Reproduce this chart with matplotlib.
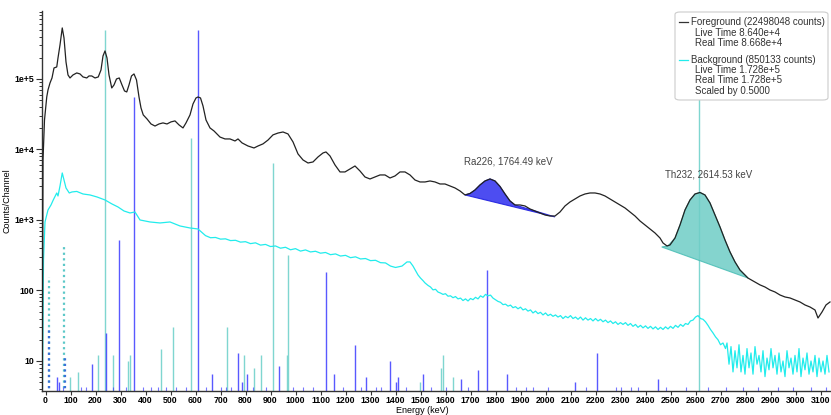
import numpy as np
import matplotlib
matplotlib.use('Agg')
import matplotlib.pyplot as plt
from matplotlib.patches import FancyBboxPatch
from matplotlib.lines import Line2D
from matplotlib.ticker import FixedLocator, FixedFormatter, LogLocator, NullFormatter

plt.rcParams['font.family'] = ['Liberation Sans', 'DejaVu Sans']

# ---------------- data ----------------
fg_energy = [-13, -10, -4, 5, 10, 18, 26, 34, 45, 50, 58, 67, 74, 82, 90, 98, 110, 125, 138, 150,
             165, 174, 185, 198, 211, 222, 230, 238, 246, 254, 265, 274, 284, 295, 306, 316, 325,
             334, 344, 354, 364, 374, 382, 391, 406, 422, 438, 454, 470, 486, 502, 518, 534, 550,
             562, 578, 590, 602, 610, 620, 630, 642, 658, 674, 698, 718, 738, 758, 770, 786, 810,
             834, 850, 870, 890, 910, 930, 950, 970, 990, 1010, 1030, 1050, 1070, 1090, 1110, 1122,
             1138, 1158, 1178, 1198, 1218, 1238, 1258, 1278, 1298, 1318, 1338, 1358, 1378, 1398,
             1418, 1438, 1458, 1478, 1498, 1518, 1538, 1558, 1578, 1598, 1618, 1638, 1658, 1678,
             1698, 1718, 1738, 1758, 1778, 1798, 1818, 1838, 1858, 1878, 1898, 1918, 1938, 1958,
             1978, 1998, 2018, 2038, 2058, 2078, 2098, 2118, 2138, 2158, 2178, 2198, 2218, 2238,
             2258, 2278, 2298, 2318, 2338, 2358, 2378, 2398, 2418, 2438, 2458, 2470, 2486, 2498,
             2518, 2538, 2558, 2578, 2598, 2618, 2638, 2658, 2678, 2698, 2718, 2738, 2758, 2778,
             2810, 2838, 2858, 2878, 2898, 2918, 2938, 2958, 2978, 2998, 3018, 3038, 3058, 3078,
             3090, 3106, 3122, 3138]
fg_counts = [4, 7100, 26200, 55500, 69800, 87700, 103300, 143200, 148000, 198600, 303600, 529000,
             381500, 174200, 114000, 103300, 114000, 121700, 117800, 106800, 103300, 110300,
             110300, 103300, 106800, 134200, 212000, 249600, 198600, 114000, 74500, 82200, 100000,
             103300, 82200, 67600, 65400, 82200, 110300, 117800, 96800, 55500, 38800, 30900,
             27100, 23000, 21500, 23000, 23800, 23000, 24600, 25400, 22300, 20200, 23800, 30900,
             44200, 53800, 55500, 53800, 41400, 26200, 20200, 18300, 15000, 14100, 14100, 13200,
             14100, 12400, 11200, 10500, 11200, 12000, 13600, 16100, 17100, 17700, 16600, 12800,
             8640, 7100, 6430, 6650, 7830, 8920, 9220, 8090, 6030, 4800, 4800, 5290, 5830, 4950,
             4070, 3815, 4070, 4350, 4350, 3940, 4210, 4800, 4800, 4350, 3690, 3460, 3460, 3575,
             3460, 3240, 3240, 3035, 2845, 2580, 2263, 2376, 2664, 3137, 3575, 3815, 3575, 2987,
             2337, 1860, 1632, 1632, 1580, 1432, 1341, 1257, 1177, 1139, 1139, 1298, 1580, 1800,
             1985, 2190, 2337, 2415, 2415, 2337, 2190, 1985, 1800, 1632, 1480, 1298, 1139, 968,
             849, 745, 654, 555, 472, 428, 442, 555, 849, 1386, 1922, 2337, 2455, 2262, 1742,
             1177, 796, 520, 352, 254, 195, 150, 132, 120, 112, 101.6, 95.2, 86.3, 80.9, 78.3,
             73.3, 68.7, 62.3, 58.3, 52.9, 40.7, 49.5, 62.3, 68.7]

bg_energy = [-12, -8, -2, 10, 22, 31, 45, 50, 58, 67, 74, 82, 95, 106, 125, 150, 178, 206, 238,
             266, 290, 314, 338, 358, 378, 418, 458, 498, 538, 578, 610,
             640, 660, 680, 700, 720, 740, 760, 780, 800, 820, 840, 860, 880, 900, 920, 940, 960,
             980, 1000, 1020, 1040, 1060, 1080, 1100, 1120, 1140, 1160, 1180, 1200, 1220, 1240,
             1260, 1280, 1300, 1320, 1340, 1360, 1380, 1400, 1426, 1446, 1458, 1470,
             1490, 1500, 1510, 1518, 1530, 1540, 1550, 1560, 1570, 1580, 1590, 1600, 1610, 1620,
             1630, 1640, 1650, 1660, 1670, 1680, 1690, 1700, 1710, 1720, 1730, 1740, 1750, 1760,
             1770, 1780, 1790, 1800, 1810, 1820, 1830, 1840, 1850, 1860, 1870, 1880, 1890, 1900,
             1910, 1920, 1930, 1940, 1950, 1960, 1970, 1980, 1990, 2000, 2010, 2020, 2030, 2040,
             2050, 2060, 2070, 2080, 2090, 2100, 2110, 2120, 2130, 2140, 2150, 2160, 2170, 2180,
             2190, 2200, 2210, 2220, 2230, 2240, 2250, 2260, 2270, 2280, 2290, 2300, 2310, 2320,
             2330, 2340, 2350, 2360, 2370, 2380, 2390, 2400, 2410, 2420, 2430, 2440, 2450, 2460,
             2470, 2480, 2490, 2500, 2510, 2520, 2530, 2540, 2550, 2560, 2570, 2580, 2590, 2600,
             2610, 2620, 2630, 2640, 2650, 2660, 2670, 2680, 2690, 2700, 2710, 2720,
             2726, 2734, 2742, 2750, 2758, 2766, 2774, 2782, 2790, 2798, 2806, 2814, 2822, 2830,
             2838, 2846, 2854, 2862, 2870, 2878, 2886, 2894, 2902, 2910, 2918, 2926, 2934, 2942,
             2950, 2958, 2966, 2974, 2982, 2990, 2998, 3006, 3014, 3022, 3030, 3038, 3046, 3054,
             3062, 3070, 3078, 3086, 3094, 3102, 3110, 3118, 3126, 3134]
bg_counts = [4, 271, 937, 1386, 1632, 1922, 2415, 2190, 3035, 4642, 3690, 2845, 2415, 2497, 2540,
             2337, 2263, 2120, 1922, 1686, 1529, 1341, 1257, 1298, 1000, 937, 907, 937, 822, 770,
             745,
             600, 560, 565, 535, 540, 510, 515, 485, 492, 462, 474, 440, 450, 420, 428, 398, 410,
             378, 392, 362, 376, 352, 360, 338, 346, 322, 330, 308, 315, 292, 300,
             280, 284, 265, 268, 248, 246, 222, 212, 222, 254, 254, 222,
             166, 150, 138, 128, 118, 112, 102, 104, 95, 92, 88, 90, 83, 84,
             79, 82, 76, 78, 72, 76, 71, 77, 74, 80, 76, 84, 80, 88,
             84, 86, 78, 74, 70, 68, 63, 64, 60, 62, 57, 59, 55, 58,
             53, 55, 51, 53, 48, 51, 47, 49, 45, 48, 44, 46, 43, 45,
             42, 44, 40, 43, 41, 44, 40, 42, 39, 42, 38, 41, 38, 40,
             37, 40, 37, 39, 36, 38, 35, 37, 34, 36, 33, 35, 33, 35,
             32, 34, 31, 33, 30, 32, 29.5, 31.5, 29, 31, 28.5, 30.5, 28, 30,
             28, 30.5, 28.5, 31, 29, 32, 30, 33, 31, 34, 33, 37, 38, 42,
             44, 40, 39, 36, 32, 28, 25, 22, 20, 17, 18, 15,
             18, 9, 16, 7, 14, 8, 17, 7, 12, 6.5, 15, 8, 13, 6.5, 16, 9, 12, 7, 14, 6, 11, 7.5,
             15, 8, 12, 6.5, 13, 7, 10, 6, 14, 8, 11, 6.5, 12, 7, 15, 6, 11, 7.5, 13, 6.5, 10, 7,
             12, 6, 11, 7, 10, 6.5, 12, 7]

# reference gamma lines
fg_line_energy = [46.5, 53, 186, 242, 295, 352, 609, 665, 768, 786, 806, 934, 1120, 1155, 1238,
                  1281, 1377, 1401, 1408, 1509, 1661, 1729, 1764, 1847, 2119, 2204, 2448]
fg_line_height = [6, 5, 9, 25, 520, 56000, 495000, 6.5, 13, 5, 6.5, 8.5, 180, 6.5, 17,
                  6, 10, 5, 6, 6.5, 5.5, 7.5, 195, 6.5, 5, 13, 5.5]
fg_minor_energy = [70, 140, 160, 270, 320, 390, 420, 450, 480, 520, 560, 640, 700, 720, 740, 830,
                   880, 990, 1030, 1070, 1190, 1260, 1320, 1340, 1440, 1540, 1600, 1690, 1880,
                   1920, 1950, 2010, 2160, 2280, 2300, 2340, 2370, 2480, 2560, 2650, 2720, 2790,
                   2850, 2930, 2990, 3060, 3120]
fg_minor_height = [4.3] * len(fg_minor_energy)
bg_line_energy = [99, 129, 209, 238.6, 270, 328, 338, 463, 510, 583, 727, 795, 835, 860, 911,
                  964, 969, 1496, 1580, 1588, 1630, 2614.5]
bg_line_height = [6, 7, 12, 495000, 12, 10, 12, 15, 30, 14600, 30, 12, 8, 12, 6500,
                  12, 316, 5, 8, 12, 6, 300000]
xray_bg_energy = [13, 75]
xray_bg_height = [155, 440]
xray_fg_energy = [12, 77]
xray_fg_height = [30, 12]

# peak fits
ra_fit_energy = [1678, 1698, 1718, 1738, 1758, 1778, 1798, 1818, 1838, 1858, 1878, 2038]
ra_fit_counts = [2263, 2376, 2664, 3137, 3575, 3815, 3575, 2987, 2337, 1860, 1632, 1104]
ra_cont_energy = [1678, 2038]
ra_cont_counts = [2263, 1104]
th_fit_energy = [2465, 2490, 2518, 2538, 2558, 2578, 2598, 2618, 2638, 2658, 2678, 2698, 2718,
                 2738, 2758, 2778, 2810]
th_fit_counts = [414, 428, 555, 849, 1386, 1922, 2337, 2455, 2262, 1742, 1177, 796, 520, 352,
                 254, 195, 150]
th_cont_energy = [2465, 2810]
th_cont_counts = [414, 150]

x_ticks = list(range(0, 3101, 100))
y_ticks = [10, 100, 1e3, 1e4, 1e5]
y_tick_labels = ['10', '100', '1e+3', '1e+4', '1e+5']

legend_lines = ['Foreground (22498048 counts)', 'Live Time 8.640e+4', 'Real Time 8.668e+4',
                'Background (850133 counts)', 'Live Time 1.728e+5', 'Real Time 1.728e+5',
                'Scaled by 0.5000']

# ---------------- figure ----------------
W, H = 831, 415
fig = plt.figure(figsize=(W / 100, H / 100), dpi=100)
ax = fig.add_axes([41.5 / W, 1 - 390.7 / H, (831 - 41.5) / W, (390.7 - 11) / H])
ax.set_yscale('log')
ax.set_xlim(-16, 3142)
ax.set_ylim(3.79, 9.2e5)

teal = '#7fd6d0'
blue = '#3c3cff'
cyan = '#22ecec'

ax.vlines(bg_line_energy, 1, bg_line_height, color=teal, lw=1.0, zorder=1)
ax.vlines(fg_line_energy, 1, fg_line_height, color=blue, lw=1.0, alpha=0.85, zorder=1.2)
ax.vlines(fg_minor_energy, 1, fg_minor_height, color=blue, lw=0.8, alpha=0.7, zorder=1.2)
ax.vlines(xray_bg_energy, 1, xray_bg_height, color='#5cc8c8', lw=1.6, linestyles=(0, (1, 1.5)), zorder=1.1)
ax.vlines(xray_fg_energy, 1, xray_fg_height, color='#3a6fd8', lw=1.6, linestyles=(0, (1, 1.5)), zorder=1.15)

ax.plot(bg_energy, bg_counts, color=cyan, lw=0.9, zorder=2)

# peak fit fills
ra_poly_x = ra_fit_energy + ra_cont_energy[::-1]
ra_poly_y = ra_fit_counts + ra_cont_counts[::-1]
ax.fill(ra_poly_x, ra_poly_y, color='#3a3af0', alpha=0.9, lw=0.8, ec='#2020e0', zorder=3)
th_poly_x = th_fit_energy + th_cont_energy[::-1]
th_poly_y = th_fit_counts + th_cont_counts[::-1]
ax.fill(th_poly_x, th_poly_y, color='#6fcdc6', alpha=0.85, lw=0.8, ec='#48bdb5', zorder=3)

ax.plot(fg_energy, fg_counts, color='#222222', lw=0.9, zorder=4)

ax.text(1850, 10 ** (5 - (161.7 - 79) / 70.5), 'Ra226, 1764.49 keV', ha='center', va='center',
        fontsize=7, color='#444444', zorder=5)
ax.text(2654, 10 ** (5 - (175 - 79) / 70.5), 'Th232, 2614.53 keV', ha='center', va='center',
        fontsize=7, color='#444444', zorder=5)

# axes styling
for s in ['top', 'right']:
    ax.spines[s].set_visible(False)
for s in ['left', 'bottom']:
    ax.spines[s].set_color('#333333')
    ax.spines[s].set_linewidth(1.0)
ax.xaxis.set_major_locator(FixedLocator(x_ticks))
ax.set_xticklabels([str(t) for t in x_ticks])
ax.yaxis.set_major_locator(FixedLocator(y_ticks))
ax.yaxis.set_major_formatter(FixedFormatter(y_tick_labels))
ax.yaxis.set_minor_locator(LogLocator(base=10, subs=np.arange(2, 10)))
ax.yaxis.set_minor_formatter(NullFormatter())
ax.tick_params(axis='both', which='major', labelsize=6.3, length=4, width=0.8, color='#333333', pad=1.5)
ax.tick_params(axis='x', which='major', length=3, pad=1)
ax.tick_params(axis='y', which='minor', length=2.5, width=0.7, color='#333333')
for lab in ax.get_xticklabels() + ax.get_yticklabels():
    lab.set_fontweight('bold')
ax.set_xlabel('Energy (keV)', fontsize=6.5)
ax.set_ylabel('Counts/Channel', fontsize=6.5)
ax.xaxis.set_label_coords((422 - 41.5) / 789.5, -(410.5 - 390.7) / 379.7)
ax.xaxis.label.set_va('center')
ax.yaxis.set_label_coords((12 - 41.5) / 789.5, 0.5)
ax.patch.set_alpha(0)

# legend box
box = FancyBboxPatch((675 / W, 1 - 100 / H), 153 / W, 88 / H,
                     boxstyle='round,pad=0,rounding_size=0.006', transform=fig.transFigure,
                     facecolor='white', edgecolor='#cccccc', lw=0.8, zorder=10)
fig.add_artist(box)
leg_y = [22, 33, 43, 60, 70, 80, 91]
leg_x = [691, 695, 695, 691, 695, 695, 695]
for txt, yy, xx in zip(legend_lines, leg_y, leg_x):
    fig.text(xx / W, 1 - yy / H, txt, fontsize=7, va='center', ha='left', color='#333333', zorder=11)
fig.add_artist(Line2D([679 / W, 688 / W], [1 - 22 / H, 1 - 22 / H], color='#333333', lw=0.9,
                      transform=fig.transFigure, zorder=11))
fig.add_artist(Line2D([679 / W, 688 / W], [1 - 60 / H, 1 - 60 / H], color=cyan, lw=0.9,
                      transform=fig.transFigure, zorder=11))

fig.savefig('out.png', dpi=100)
